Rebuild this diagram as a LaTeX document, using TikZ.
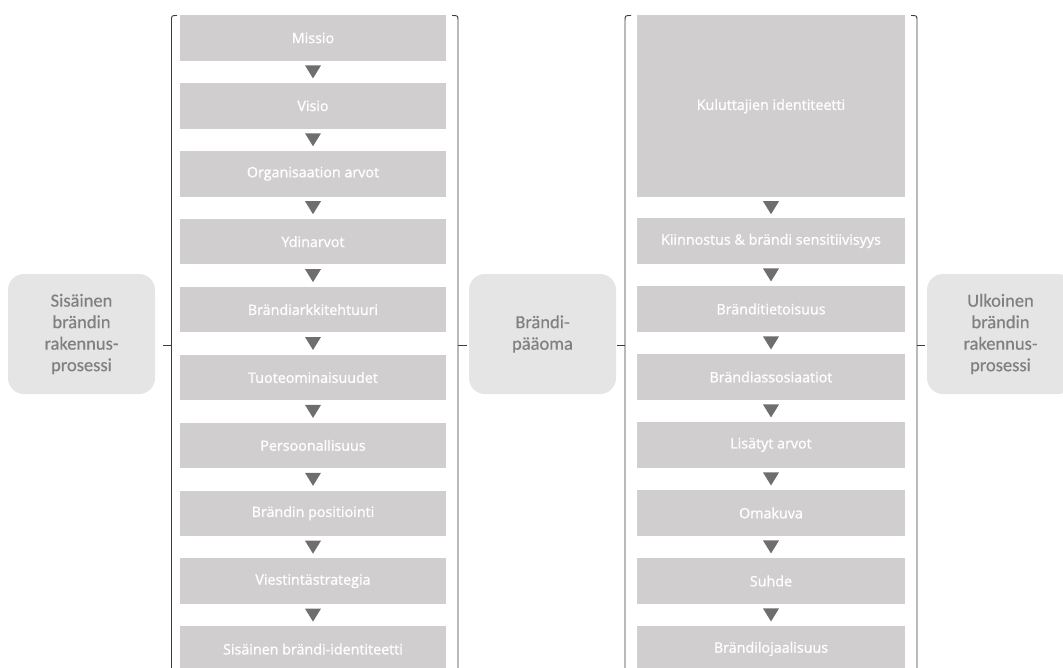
\documentclass[tikz,border=0pt]{standalone}
\usepackage{fontspec}
\setmainfont{Open Sans}
\newfontfamily\boxfont[FakeBold=1.2]{Open Sans}
\newfontfamily\sidefont[FakeBold=0.4]{Carlito}
\usetikzlibrary{calc}
\definecolor{boxgray}{RGB}{208,206,207}
\definecolor{sidegray}{RGB}{229,229,229}
\definecolor{sidetext}{RGB}{128,128,128}
\definecolor{trigray}{RGB}{110,110,110}
\definecolor{brgray}{RGB}{60,60,60}
\tikzset{
  stepbox/.style={fill=boxgray, draw=none, anchor=north, inner sep=0pt,
    text=white, font=\boxfont\fontsize{14.3}{16}\selectfont},
  lbox/.style={stepbox, minimum width=266pt, minimum height=45.5pt},
  rbox/.style={stepbox, minimum width=268pt, minimum height=45.5pt},
  sidebox/.style={fill=sidegray, draw=none, rounded corners=16pt,
    minimum width=147pt, minimum height=120pt, inner sep=0pt,
    text=sidetext, align=center,
    font=\sidefont\fontsize{18.5}{21.5}\selectfont},
  bracket/.style={draw=brgray, line width=0.9pt},
  tri/.style={fill=trigray},
}
\newcommand{\tribetween}[2]{%
  \fill[tri] ($(#1.south)!0.5!(#2.north)$) ++(-8,-6.5) -- ++(16,0) -- ++(-8,13) -- cycle;}
\begin{document}
\begin{tikzpicture}[x=1pt, y=-1pt]
\useasboundingbox (0,0) rectangle (1063,667);
\clip (0,0) rectangle (1063,667);
% side boxes
\node[sidebox] (sis) at (81.5,334) {Sisäinen\\brändin\\rakennus-\\prosessi};
\node[sidebox] (paa) at (542.5,334) {Brändi-\\pääoma};
\node[sidebox] (ulk) at (1000.5,334) {Ulkoinen\\brändin\\rakennus-\\prosessi};
% left column
\foreach \t [count=\i from 0] in {Missio, Visio, Organisaation arvot, Ydinarvot,
  Brändiarkkitehtuuri, Tuoteominaisuudet, Persoonallisuus, Brändin positiointi,
  Viestintästrategia, Sisäinen brändi-identiteetti}{
  \node[lbox] (l\i) at (313, {15+67.9*\i}) {\t};
}
\foreach \i [evaluate=\i as \j using int(\i+1)] in {0,...,8}{
  \tribetween{l\i}{l\j}
}
% right column
\node[rbox, minimum height=182pt] (r0) at (771,15) {Kuluttajien identiteetti};
\foreach \t [count=\i from 1] in {Kiinnostus \& brändi sensitiivisyys, Bränditietoisuus,
  Brändiassosiaatiot, Lisätyt arvot, Omakuva, Suhde, Brändilojaalisuus}{
  \node[rbox] (r\i) at (771, {218+68*(\i-1)}) {\t};
}
\foreach \i [evaluate=\i as \j using int(\i+1)] in {0,...,6}{
  \tribetween{r\i}{r\j}
}
% brackets of left column
\draw[bracket] (177,15.5) .. controls (171.5,15.5) .. (171.5,21) -- (171.5,680);
\draw[bracket] (163,345) -- (171.5,345);
\draw[bracket] (452,15.5) .. controls (458,15.5) .. (458,21) -- (458,680);
\draw[bracket] (458,345) -- (466.5,345);
% brackets of right column
\draw[bracket] (631,15.5) .. controls (625,15.5) .. (625,21) -- (625,680);
\draw[bracket] (617,345) -- (625,345);
\draw[bracket] (911,15.5) .. controls (917,15.5) .. (917,21) -- (917,680);
\draw[bracket] (917,345) -- (925,345);
\end{tikzpicture}
\end{document}
